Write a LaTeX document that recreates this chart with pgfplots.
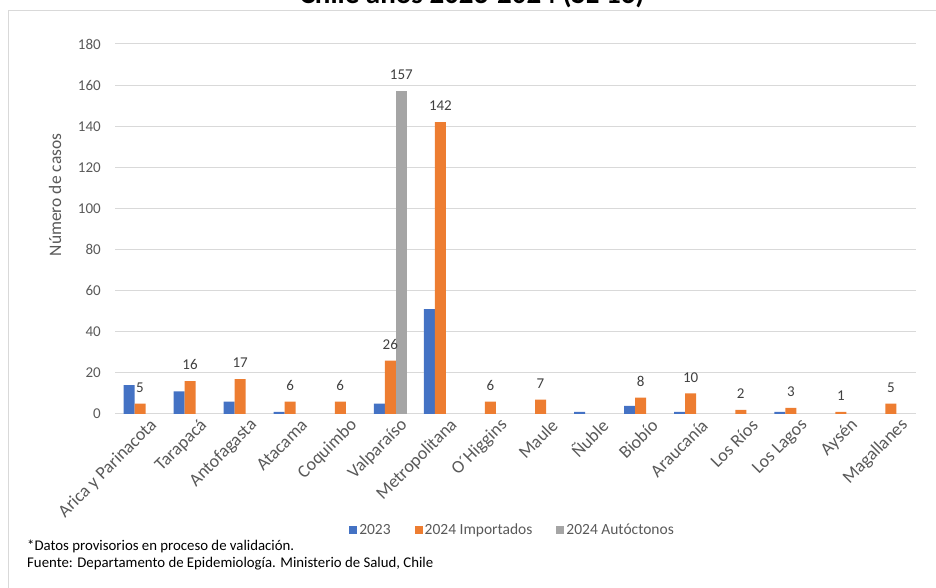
\documentclass[border=0pt]{standalone}
\usepackage{pgfplots}
\pgfplotsset{compat=1.18}
\usepackage{pgfplotstable}
\usepackage{fontspec}
\setmainfont{Carlito}

\definecolor{c23}{HTML}{4472C4}
\definecolor{cimp}{HTML}{ED7D31}
\definecolor{caut}{HTML}{A5A5A5}
\definecolor{gridc}{HTML}{D9D9D9}
\definecolor{tickc}{HTML}{595959}
\definecolor{labc}{HTML}{404040}

% 2023 (zeros left out)
\pgfplotstableread{
x v
0 14
1 11
2 6
3 1
5 5
6 51
9 1
10 4
11 1
13 1
}\tabA

% 2024 importados
\pgfplotstableread{
x v
0 5
1 16
2 17
3 6
4 6
5 26
6 142
7 6
8 7
10 8
11 10
12 2
13 3
14 1
15 5
}\tabB

% 2024 autoctonos
\pgfplotstableread{
x v
5 157
}\tabC

\begin{document}
\begin{tikzpicture}[x=1pt,y=1pt]
\useasboundingbox (0,0) rectangle (936,588);
\draw[gridc, line width=1pt] (8.5,0) -- (8.5,577.5) -- (936,577.5);
\node[font=\bfseries\fontsize{29}{34}\selectfont, anchor=base, inner sep=0pt] at (472,584) {Chile años 2023-2024 (SE 16)};

\begin{axis}[
    at={(115pt,174pt)}, anchor=south west,
    scale only axis, width=801pt, height=370pt,
    ybar=0pt, bar width=11pt,
    xmin=-0.5, xmax=15.5, ymin=0, ymax=180,
    ytick={0,20,...,180},
    xtick={0,...,15},
    xticklabels={Arica y Parinacota,Tarapacá,Antofagasta,Atacama,Coquimbo,Valparaíso,Metropolitana,O´Higgins,Maule,Ñuble,Biobío,Araucanía,Los Ríos,Los Lagos,Aysén,Magallanes},
    axis line style={draw=none},
    major tick length=0pt,
    ymajorgrids, grid style={gridc, line width=1pt},
    /pgf/number format/assume math mode=true,
    yticklabel style={font=\fontsize{15}{18}\selectfont, text=tickc, anchor=east, inner sep=0pt, xshift=-14pt},
    xticklabel style={font=\fontsize{18}{21}\selectfont, text=tickc, rotate=45, anchor=east, inner sep=0pt, xshift=4pt, yshift=-16pt},
    nodes near coords style={font=\fontsize{15}{18}\selectfont, text=labc, inner sep=0pt, anchor=south, yshift=11pt},
    legend columns=3,
    legend style={at={(0.4963,-0.3135)}, anchor=center, draw=none, fill=none, inner sep=0pt,
        font=\fontsize{15.5}{18}\selectfont, text=tickc,
        nodes={inner xsep=2pt, inner ysep=0pt},
        /tikz/every even column/.append style={column sep=22pt}},
    legend image code/.code={\fill[#1,draw=none] (0pt,-4pt) rectangle (8pt,4pt);},
    clip=false,
]
\addplot[fill=c23, draw=none] table[x=x,y=v] {\tabA};
\addplot[fill=cimp, draw=none, nodes near coords] table[x=x,y=v] {\tabB};
\addplot[fill=caut, draw=none, nodes near coords] table[x=x,y=v] {\tabC};
\legend{2023,2024 Importados,2024 Autóctonos}
\end{axis}

\node[rotate=90, font=\fontsize{17.5}{20}\selectfont, text=tickc, inner sep=0pt] at (55,393) {Número de casos};
\node[anchor=base west, inner sep=0pt, font=\fontsize{14.8}{17}\selectfont] at (27,37) {*Datos provisorios en proceso de validación.};
\node[anchor=base west, inner sep=0pt, font=\fontsize{14.8}{17}\selectfont] at (27,20) {Fuente: Departamento de Epidemiología. Ministerio de Salud, Chile};
\end{tikzpicture}
\end{document}
